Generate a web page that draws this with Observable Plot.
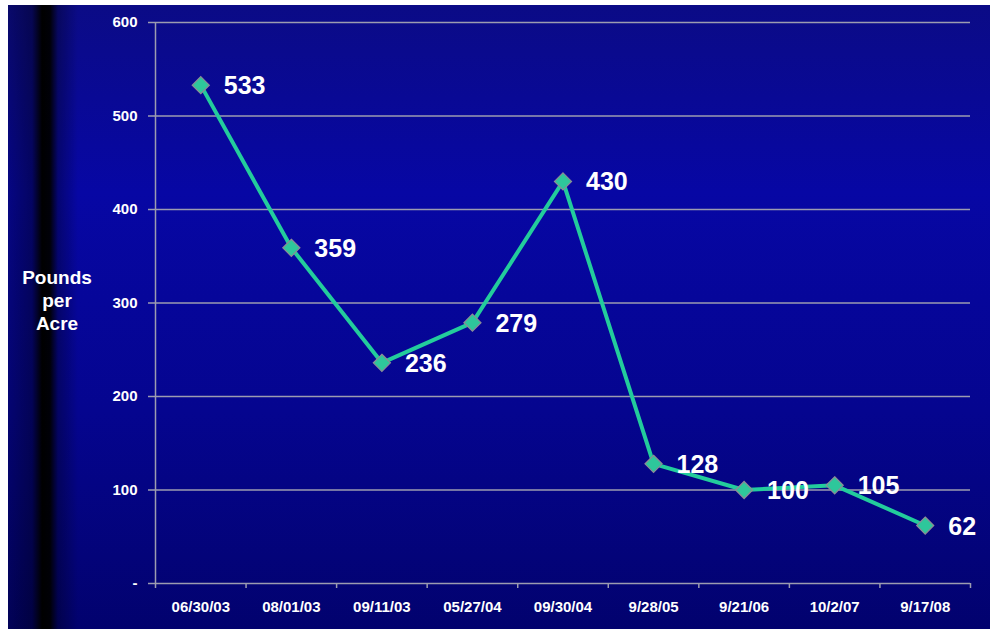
<!DOCTYPE html>
<html>
<head>
<meta charset="utf-8">
<script src="https://cdn.jsdelivr.net/npm/d3@7"></script>
<script src="https://cdn.jsdelivr.net/npm/@observablehq/plot@0.6"></script>
<style>
  html, body { margin: 0; padding: 0; background: #fff; }
  #wrap {
    position: relative; width: 990px; height: 629px; overflow: hidden;
    background: #fff;
  }
  #bg {
    position: absolute; left: 8px; top: 5px; right: 0; bottom: 0;
    background:
      linear-gradient(to right, rgba(0,0,0,0.2) 0px, rgba(0,0,0,0.4) 24px, rgba(0,0,0,1) 34px, rgba(0,0,0,0.95) 42px, rgba(0,0,0,0.3) 50px, rgba(0,0,0,0) 70px),
      linear-gradient(to bottom, #0b0b86 0%, #0707a4 30%, #05058f 65%, #02026e 100%);
  }
  #ylabel {
    position: absolute; left: 7px; top: 266px; width: 100px; text-align: center;
    font: bold 19px "Liberation Sans", Arial, sans-serif; line-height: 23px; color: #fff;
  }
  #chart { position: absolute; left: 0; top: 0; }
</style>
</head>
<body>
<div id="wrap">
  <div id="bg"></div>
  <div id="ylabel">Pounds<br>per<br>Acre</div>
  <div id="chart"></div>
</div>
<script>
const dates = ["06/30/03", "08/01/03", "09/11/03", "05/27/04", "09/30/04", "9/28/05", "9/21/06", "10/2/07", "9/17/08"];
const pounds = [533, 359, 236, 279, 430, 128, 100, 105, 62];
const yTicks = [0, 100, 200, 300, 400, 500, 600];

const data = dates.map((d, i) => ({date: d, pos: i + 0.5, value: pounds[i]}));
const centers = dates.map((d, i) => i + 0.5);
const bounds = d3.range(dates.length + 1);

const font = "'Liberation Sans', Arial, sans-serif";
const grid = "#9c9cb0";

const chart = Plot.plot({
  width: 990,
  height: 629,
  marginLeft: 155,
  marginRight: 20,
  marginTop: 22,
  marginBottom: 46,
  style: {background: "transparent", color: "#fff", fontFamily: font, fontWeight: "bold", fontSize: "15px"},
  x: {domain: [0, dates.length]},
  y: {domain: [0, 600]},
  marks: [
    Plot.ruleY(yTicks, {stroke: grid, strokeWidth: 1.5}),
    Plot.ruleX([0], {stroke: grid, strokeWidth: 1.5}),
    Plot.axisY({ticks: yTicks, tickSize: 7, tickPadding: 11, stroke: grid, strokeWidth: 1.5, strokeOpacity: 1,
      tickFormat: d => d === 0 ? "-" : String(d), label: null, fill: "#fff", fontSize: 15}),
    Plot.axisX({ticks: bounds, tickSize: 5, tickFormat: () => "", label: null, stroke: grid, strokeWidth: 1.5, strokeOpacity: 1}),
    Plot.axisX({ticks: centers, tickSize: 0, tickPadding: 18, tickFormat: d => dates[Math.round(d - 0.5)], label: null, fill: "#fff", fontSize: 15}),
    Plot.line(data, {x: "pos", y: "value", stroke: "#23cc9c", strokeWidth: 4}),
    Plot.dot(data, {x: "pos", y: "value", symbol: "diamond2", r: 7.7, fill: "#2ec79b", stroke: "#8c8c96", strokeWidth: 1.2}),
    Plot.text(data, {x: "pos", y: "value", text: d => String(d.value), dx: 23, dy: 1, textAnchor: "start",
      fill: "#fff", fontSize: 25, fontWeight: "bold", fontFamily: font})
  ]
});
document.getElementById("chart").appendChild(chart);
</script>
</body>
</html>
